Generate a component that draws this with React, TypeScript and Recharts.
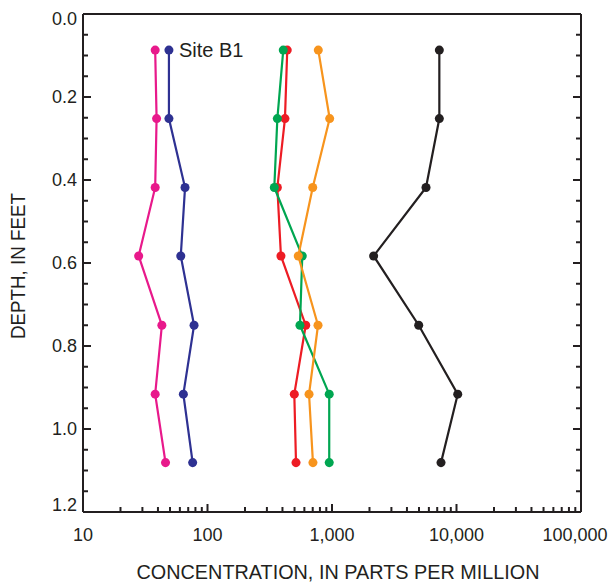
import { Label, ReferenceDot, Scatter, ScatterChart, XAxis, YAxis, ZAxis } from "recharts";

const INK = "#231f20";
const FONT = "'Liberation Sans', Arial, Helvetica, sans-serif";

// sampled depth intervals (feet) shared by every profile
const depthFt = [0.087, 0.252, 0.418, 0.583, 0.75, 0.916, 1.081];

// concentration profiles, ppm, one value per depth
const magentaPpm = [38, 39, 38, 28, 43, 38, 46];
const bluePpm = [49, 49, 66, 61, 78, 64, 76];
const redPpm = [437, 419, 364, 389, 615, 498, 514];
const greenPpm = [406, 364, 344, 577, 553, 950, 950];
const orangePpm = [776, 958, 700, 536, 772, 654, 703];
const blackPpm = [7280, 7280, 5690, 2160, 4970, 10230, 7510];

const siteLabel = "Site B1";

const xMajorTicks = [10, 100, 1000, 10000, 100000];
const xMinorMultiples = [1, 2, 3, 4, 5, 6, 7, 8, 9];
const xTicks = xMajorTicks
  .slice(0, -1)
  .flatMap((d) => xMinorMultiples.map((m) => m * d))
  .concat(100000);

// 0.05 ft minor steps, labelled every 0.2 ft
const yTicks = Array.from({ length: 25 }, (_, i) => Math.round(i * 5) / 100);
const isYMajor = (v: number) => Math.round(v * 100) % 20 === 0;

const series = [
  { key: "magenta", color: "#e8198b", values: magentaPpm },
  { key: "blue", color: "#2e3192", values: bluePpm },
  { key: "red", color: "#ed1c24", values: redPpm },
  { key: "green", color: "#00a651", values: greenPpm },
  { key: "orange", color: "#f7941d", values: orangePpm },
  { key: "black", color: INK, values: blackPpm },
];

const toPoints = (values: number[]) =>
  values.map((ppm, i) => ({ ppm, depth: depthFt[i] }));

function BottomTick({ x, y, payload }: any) {
  const v = payload.value;
  const major = xMajorTicks.includes(v);
  // keep the last label inside the page edge
  const tx = v === xMajorTicks[xMajorTicks.length - 1] ? x - 6 : x;
  return (
    <g>
      <line x1={x} x2={x} y1={y} y2={y - (major ? 8 : 5)} stroke={INK} strokeWidth={2} />
      {major && (
        <text
          x={tx}
          y={y + 23}
          textAnchor="middle"
          dominantBaseline="central"
          fontSize={18}
          fontFamily={FONT}
          fill={INK}
        >
          {v.toLocaleString("en-US")}
        </text>
      )}
    </g>
  );
}

function TopTick({ x, y, payload }: any) {
  const major = xMajorTicks.includes(payload.value);
  return <line x1={x} x2={x} y1={y} y2={y + (major ? 8 : 5)} stroke={INK} strokeWidth={2} />;
}

function LeftTick({ x, y, payload, index }: any) {
  const v = payload.value;
  const major = isYMajor(v);
  // end labels sit just inside the frame
  const ty = index === 0 ? y + 5 : index === yTicks.length - 1 ? y - 7 : y;
  return (
    <g>
      <line x1={x} x2={x + (major ? 8 : 5)} y1={y} y2={y} stroke={INK} strokeWidth={2} />
      {major && (
        <text
          x={x - 6}
          y={ty}
          textAnchor="end"
          dominantBaseline="central"
          fontSize={18}
          fontFamily={FONT}
          fill={INK}
        >
          {v.toFixed(1)}
        </text>
      )}
    </g>
  );
}

function RightTick({ x, y, payload }: any) {
  const major = isYMajor(payload.value);
  return <line x1={x} x2={x - (major ? 8 : 5)} y1={y} y2={y} stroke={INK} strokeWidth={2} />;
}

export default function App() {
  return (
    <div style={{ position: "absolute", left: 0, top: 0, background: "#fff" }}>
      <ScatterChart width={610} height={586} margin={{ top: 0, right: 0, bottom: 0, left: 0 }}>
        <XAxis
          dataKey="ppm"
          type="number"
          scale="log"
          domain={[10, 100000]}
          allowDataOverflow
          ticks={xTicks}
          interval={0}
          tick={(p: any) => <BottomTick {...p} />}
          tickLine={false}
          tickSize={0}
          tickMargin={0}
          height={74}
          axisLine={{ stroke: INK, strokeWidth: 2 }}
        >
          <Label
            content={({ viewBox }: any) => (
              <text
                x={viewBox.x + viewBox.width / 2 + 6}
                y={viewBox.y + 67}
                textAnchor="middle"
                fontSize={21}
                fontFamily={FONT}
                fill={INK}
                textLength={403}
                lengthAdjust="spacingAndGlyphs"
              >
                CONCENTRATION, IN PARTS PER MILLION
              </text>
            )}
          />
        </XAxis>
        <XAxis
          xAxisId="top"
          orientation="top"
          type="number"
          scale="log"
          domain={[10, 100000]}
          allowDataOverflow
          ticks={xTicks}
          interval={0}
          tick={(p: any) => <TopTick {...p} />}
          tickLine={false}
          tickSize={0}
          tickMargin={0}
          height={14}
          axisLine={{ stroke: INK, strokeWidth: 2 }}
        />
        <YAxis
          dataKey="depth"
          type="number"
          domain={[0, 1.2]}
          reversed
          allowDataOverflow
          ticks={yTicks}
          interval={0}
          tick={(p: any) => <LeftTick {...p} />}
          tickLine={false}
          tickSize={0}
          tickMargin={0}
          width={83}
          axisLine={{ stroke: INK, strokeWidth: 2 }}
        >
          <Label
            content={({ viewBox }: any) => {
              const cx = viewBox.x + 17;
              const cy = viewBox.y + viewBox.height / 2 + 3;
              return (
                <text
                  transform={`translate(${cx}, ${cy}) rotate(-90)`}
                  textAnchor="middle"
                  dominantBaseline="central"
                  fontSize={21}
                  fontFamily={FONT}
                  fill={INK}
                  textLength={146}
                  lengthAdjust="spacingAndGlyphs"
                >
                  DEPTH, IN FEET
                </text>
              );
            }}
          />
        </YAxis>
        <YAxis
          yAxisId="right"
          orientation="right"
          type="number"
          domain={[0, 1.2]}
          reversed
          allowDataOverflow
          ticks={yTicks}
          interval={0}
          tick={(p: any) => <RightTick {...p} />}
          tickLine={false}
          tickSize={0}
          tickMargin={0}
          width={29}
          axisLine={{ stroke: INK, strokeWidth: 2 }}
        />
        <ZAxis range={[80, 80]} />
        {series.map((s) => (
          <Scatter
            key={s.key}
            data={toPoints(s.values)}
            fill={s.color}
            line={{ stroke: s.color, strokeWidth: 2.2 }}
            lineType="joint"
            shape="circle"
            isAnimationActive={false}
          />
        ))}
        <ReferenceDot
          x={bluePpm[0]}
          y={depthFt[0]}
          r={0}
          fill="none"
          stroke="none"
          label={{
            value: siteLabel,
            position: "right",
            offset: 10,
            fontSize: 20,
            fontFamily: FONT,
            fill: INK,
          }}
        />
      </ScatterChart>
    </div>
  );
}
